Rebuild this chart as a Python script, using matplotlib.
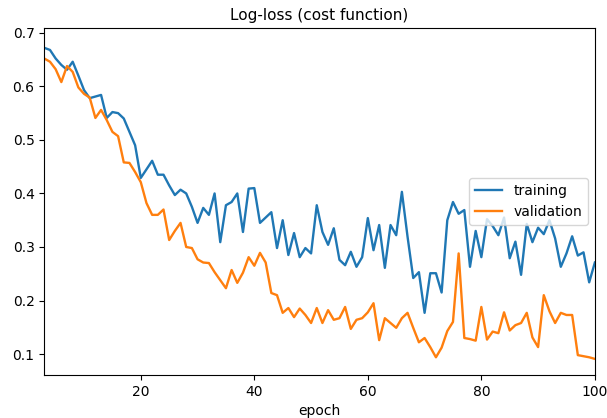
import numpy as np
import matplotlib
matplotlib.use('Agg')
import matplotlib.pyplot as plt

# epochs shown on the chart (first two are cut off by the x limits)
epochs = list(range(3, 101))

# training log-loss
training = [
    0.672, 0.668, 0.652, 0.640, 0.631, 0.646, 0.620, 0.593, 0.578, 0.581,  # 3-12
    0.584, 0.541, 0.552, 0.550, 0.540, 0.515, 0.490, 0.429, 0.445, 0.461,  # 13-22
    0.435, 0.435, 0.415, 0.397, 0.407, 0.400, 0.375, 0.345, 0.373, 0.360,  # 23-32
    0.400, 0.309, 0.378, 0.384, 0.400, 0.328, 0.409, 0.410, 0.345, 0.355,  # 33-42
    0.365, 0.298, 0.350, 0.285, 0.326, 0.281, 0.298, 0.288, 0.378, 0.328,  # 43-52
    0.304, 0.335, 0.276, 0.266, 0.291, 0.263, 0.281, 0.354, 0.294, 0.341,  # 53-62
    0.261, 0.341, 0.322, 0.403, 0.319, 0.242, 0.253, 0.177, 0.251, 0.251,  # 63-72
    0.215, 0.350, 0.384, 0.362, 0.369, 0.263, 0.330, 0.281, 0.352, 0.339,  # 73-82
    0.322, 0.355, 0.279, 0.310, 0.248, 0.343, 0.309, 0.336, 0.324, 0.350,  # 83-92
    0.316, 0.263, 0.288, 0.320, 0.284, 0.290, 0.234, 0.271,                # 93-100
]

# validation log-loss
validation = [
    0.652, 0.646, 0.632, 0.608, 0.638, 0.627, 0.598, 0.586, 0.579, 0.541,  # 3-12
    0.556, 0.537, 0.515, 0.507, 0.458, 0.457, 0.440, 0.421, 0.382, 0.360,  # 13-22
    0.360, 0.370, 0.313, 0.330, 0.345, 0.300, 0.298, 0.277, 0.271, 0.270,  # 23-32
    0.253, 0.238, 0.223, 0.257, 0.233, 0.252, 0.281, 0.265, 0.289, 0.271,  # 33-42
    0.214, 0.210, 0.177, 0.186, 0.169, 0.185, 0.173, 0.158, 0.186, 0.158,  # 43-52
    0.182, 0.164, 0.167, 0.188, 0.147, 0.164, 0.167, 0.178, 0.195, 0.126,  # 53-62
    0.167, 0.158, 0.149, 0.167, 0.177, 0.149, 0.122, 0.130, 0.113, 0.094,  # 63-72
    0.112, 0.143, 0.160, 0.288, 0.130, 0.128, 0.125, 0.188, 0.127, 0.142,  # 73-82
    0.139, 0.178, 0.144, 0.154, 0.158, 0.177, 0.131, 0.113, 0.210, 0.180,  # 83-92
    0.158, 0.177, 0.173, 0.173, 0.098, 0.096, 0.094, 0.091,                # 93-100
]

fig = plt.figure(figsize=(6.07, 4.18), dpi=100)
ax = fig.add_axes([0.073, 0.103, 0.907, 0.83])

ax.plot(epochs, training, label='training', lw=1.7)
ax.plot(epochs, validation, label='validation', lw=1.7)

ax.set_xlim(epochs[0], epochs[-1])
ax.set_ylim(0.061, 0.709)
ax.set_title('Log-loss (cost function)', fontsize=11)
ax.set_xlabel('epoch')
ax.legend(loc='center right')

fig.savefig('out.png', dpi=100)
